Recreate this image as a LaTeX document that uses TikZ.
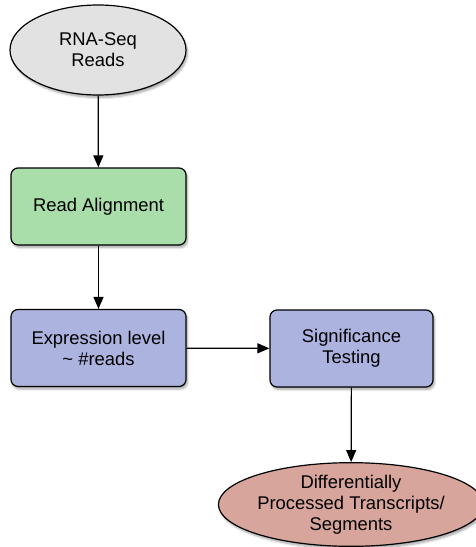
\documentclass[tikz,border=0pt]{standalone}
\usepackage{fontspec}
\setmainfont{Liberation Sans}
\usetikzlibrary{shapes.geometric,arrows.meta,shadows.blur}

\definecolor{readgray}{HTML}{E2E2E2}
\definecolor{aligngreen}{HTML}{A9DDA9}
\definecolor{stepblue}{HTML}{ADB3DF}
\definecolor{outred}{HTML}{D8A59D}

\tikzset{
  every node/.style={font=\fontsize{18.4}{21}\selectfont, align=center, inner sep=0pt},
  boxshadow/.style={blur shadow={shadow xshift=1.5pt, shadow yshift=-2.5pt, shadow blur steps=6, shadow opacity=35}},
  stepbox/.style={draw=black, line width=1.2pt, rounded corners=7pt, boxshadow,
                  minimum width=175pt, minimum height=77pt},
  terminal/.style={draw=black, line width=1.2pt, ellipse, boxshadow},
  flow/.style={line width=1.2pt, -{Triangle[length=12pt,width=10pt]}}
}

\begin{document}
\begin{tikzpicture}[x=1pt, y=-1pt]
  \useasboundingbox (0,0) rectangle (476,547);

  \node[terminal, fill=readgray, minimum width=176pt, minimum height=90pt]
    (reads) at (98,50) {RNA-Seq\\Reads};
  \node[stepbox, fill=aligngreen] (align) at (98.5,206.5) {Read Alignment};
  \node[stepbox, fill=stepblue] (expr) at (98.5,348) {Expression level\\\textasciitilde\ \#reads};
  \node[stepbox, fill=stepblue, minimum width=163pt] (sig) at (351.5,348.5) {Significance\\Testing};
  \node[terminal, fill=outred, minimum width=258pt, minimum height=83pt]
    (out) at (351,504.5) {Differentially\\Processed Transcripts/\\Segments};

  \draw[flow] (reads) -- (align);
  \draw[flow] (align) -- (expr);
  \draw[flow] (expr) -- (sig);
  \draw[flow] (sig) -- (out);
\end{tikzpicture}
\end{document}
